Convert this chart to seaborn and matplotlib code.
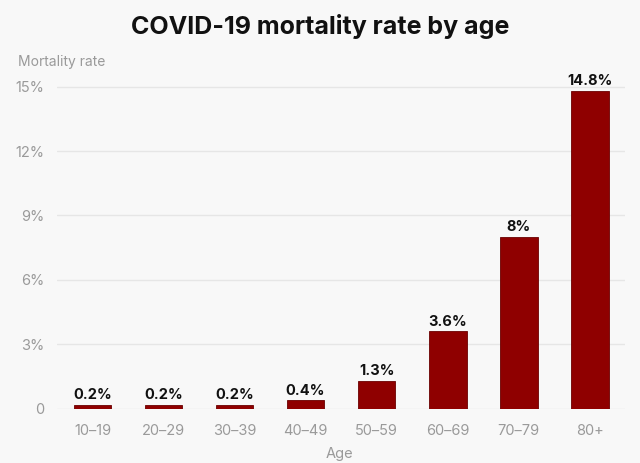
import matplotlib
matplotlib.use("Agg")
import matplotlib.pyplot as plt
import seaborn as sns
import pandas as pd

# data
age_groups = ["10\u201319", "20\u201329", "30\u201339", "40\u201349", "50\u201359", "60\u201369", "70\u201379", "80+"]
mortality = [0.2, 0.2, 0.2, 0.4, 1.3, 3.6, 8.0, 14.8]
value_labels = ["0.2%", "0.2%", "0.2%", "0.4%", "1.3%", "3.6%", "8%", "14.8%"]
y_ticks = [0, 3, 6, 9, 12, 15]
y_tick_labels = ["0", "3%", "6%", "9%", "12%", "15%"]

df = pd.DataFrame({"age": age_groups, "rate": mortality})

BG = "#f8f8f8"
BAR = "#8f0000"
GRAY = "#9a9a9a"

sns.set_theme(style="white")
plt.rcParams["font.family"] = ["Inter", "DejaVu Sans"]

fig = plt.figure(figsize=(6.4, 4.63), dpi=100, facecolor=BG)
ax = fig.add_axes([0.089, 0.117, 0.888, 0.71], facecolor=BG)

sns.barplot(data=df, x="age", y="rate", color=BAR, width=0.53,
            edgecolor="#6a0000", linewidth=0.6, saturation=1, ax=ax, zorder=3)

for i, (v, lab) in enumerate(zip(mortality, value_labels)):
    ax.text(i, v + 0.12, lab, ha="center", va="bottom", fontsize=10.5,
            fontweight="bold", color="#111111", zorder=4)

ax.set_ylim(0, 15.3)
ax.set_xlim(-0.5, 7.5)
ax.set_yticks(y_ticks)
ax.set_yticklabels(y_tick_labels)
ax.yaxis.grid(True, color="#e6e6e6", linewidth=1, zorder=0)
ax.tick_params(axis="both", length=0, colors=GRAY, labelsize=10.5)
ax.tick_params(axis="y", pad=9)
ax.tick_params(axis="x", pad=11)
for s in ax.spines.values():
    s.set_visible(False)

ax.set_xlabel("")
ax.set_ylabel("")
fig.text(0.531, 0.004, "Age", ha="center", va="bottom", fontsize=10.5, color=GRAY)
fig.text(0.028, 0.867, "Mortality rate", ha="left", va="center", fontsize=10, color=GRAY)
fig.text(0.5, 0.943, "COVID-19 mortality rate by age", ha="center", va="center",
         fontsize=18, fontweight="bold", color="#111111")

fig.savefig("out.png", dpi=100, facecolor=BG)
